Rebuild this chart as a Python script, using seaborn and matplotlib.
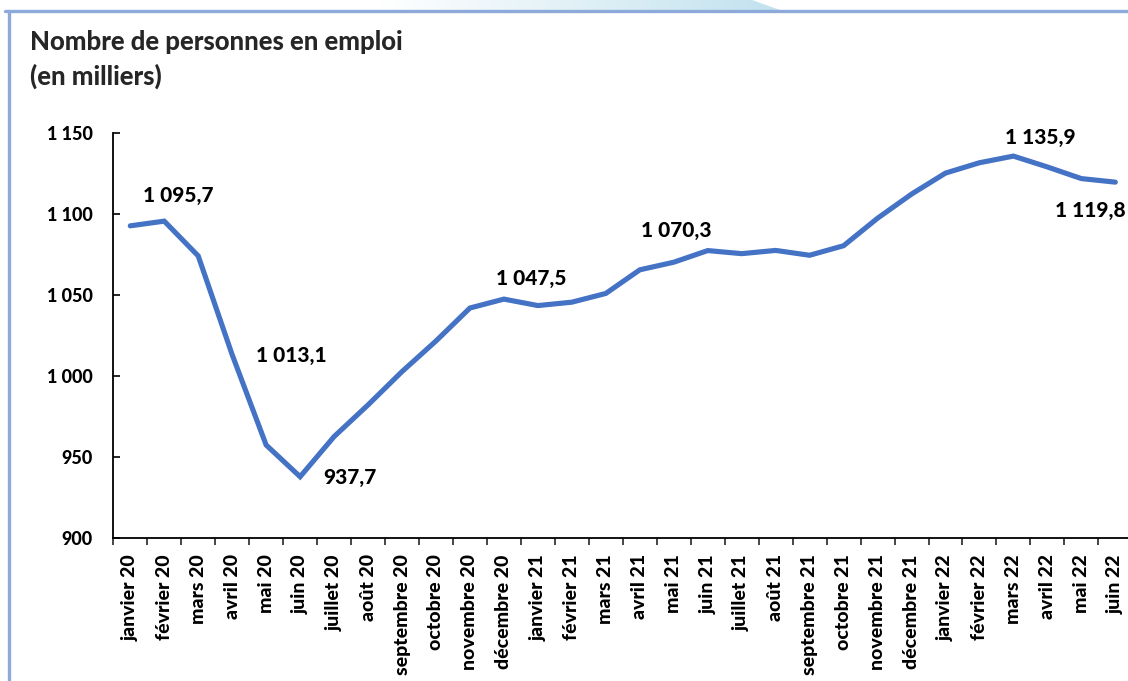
import numpy as np
import pandas as pd
import matplotlib
matplotlib.use("Agg")
import matplotlib.pyplot as plt
from matplotlib.lines import Line2D
from matplotlib.patches import Polygon
import seaborn as sns

# data (milliers)
mois = ["janvier 20", "février 20", "mars 20", "avril 20", "mai 20", "juin 20",
        "juillet 20", "août 20", "septembre 20", "octobre 20", "novembre 20", "décembre 20",
        "janvier 21", "février 21", "mars 21", "avril 21", "mai 21", "juin 21",
        "juillet 21", "août 21", "septembre 21", "octobre 21", "novembre 21", "décembre 21",
        "janvier 22", "février 22", "mars 22", "avril 22", "mai 22", "juin 22"]
emploi = [1092.8, 1095.7, 1074.2, 1013.1, 957.3, 937.7,
          962.5, 982.1, 1002.7, 1021.6, 1042.0, 1047.5,
          1043.5, 1045.6, 1051.0, 1065.6, 1070.3, 1077.5,
          1075.6, 1077.6, 1074.6, 1080.5, 1097.5, 1112.4,
          1125.4, 1131.8, 1135.9, 1129.2, 1122.0, 1119.8]
y_ticks = [900, 950, 1000, 1050, 1100, 1150]

# labelled points: month index -> offset of label (pixels)
etiquettes = {1: (14, 26), 3: (59, -1), 5: (50, -1), 11: (27, 21),
              16: (2, 32), 26: (27, 19), 29: (-25, -28)}


def fr_num(v, dec=0):
    s = f"{v:,.{dec}f}"
    return s.replace(",", " ").replace(".", ",")


df = pd.DataFrame({"mois": mois, "emploi": emploi})

sns.set_style("white")
plt.rcParams["font.family"] = ["Lato", "DejaVu Sans"]
plt.rcParams["font.weight"] = "bold"

W, H = 1128, 681
fig = plt.figure(figsize=(W / 100, H / 100), dpi=100)
ax = fig.add_axes([113.3 / W, 1 - 537.7 / H, 1019 / W, 404.4 / H])

sns.lineplot(data=df, x="mois", y="emploi", sort=False, ax=ax,
             color="#4472C4", linewidth=3.7, solid_joinstyle="miter")

ax.set_xlim(-0.5, len(mois) - 0.5)
ax.set_ylim(900, 1150)
ax.set_xlabel("")
ax.set_ylabel("")

ax.set_yticks(y_ticks)
ax.set_yticklabels([fr_num(v) for v in y_ticks], fontsize=13, fontweight="black")
ax.tick_params(axis="y", direction="in", length=5, width=1.2, pad=15, left=True, colors="black")

ax.set_xticks(range(len(mois)))
ax.set_xticklabels(mois, rotation=90, fontsize=14, fontweight="black")
ax.set_xticks(np.arange(len(mois) + 1) - 0.5, minor=True)
ax.tick_params(axis="x", which="major", length=0, pad=12, colors="black")
ax.tick_params(axis="x", which="minor", direction="out", length=5, width=1.2, bottom=True)

for side in ["top", "right"]:
    ax.spines[side].set_visible(False)
for side in ["left", "bottom"]:
    ax.spines[side].set_color("black")
    ax.spines[side].set_linewidth(1.3)

for i, (dx, dy) in etiquettes.items():
    ax.annotate(fr_num(emploi[i], 1), xy=(i, emploi[i]), xytext=(dx, dy),
                textcoords="offset pixels", ha="center", va="center",
                fontsize=15, fontweight="black", color="black", annotation_clip=False)

fig.text(30 / W, 1 - 42 / H, "Nombre de personnes en emploi", fontsize=18.5,
         fontweight="black", va="center", ha="left")
fig.text(30 / W, 1 - 76 / H, "(en milliers)", fontsize=18.5,
         fontweight="black", va="center", ha="left")

# decorative frame: gradient band on top, blue border lines
band = fig.add_axes([0, 1 - 10 / H, 1, 10 / H])
grad = np.linspace(0, 1, 400)[None, :]
cmap = matplotlib.colors.LinearSegmentedColormap.from_list("band", ["#ffffff", "#c2e2ee"])
img = band.imshow(grad, extent=[380, 780, 0, 10], cmap=cmap, aspect="auto")
clip = Polygon([[380, 0], [780, 0], [752, 10], [380, 10]], transform=band.transData)
img.set_clip_path(clip)
band.set_xlim(0, W)
band.set_ylim(0, 10)
band.axis("off")

fig.add_artist(Line2D([5 / W, 1], [1 - 11 / H, 1 - 11 / H], color="#8eaadb", linewidth=2.4))
fig.add_artist(Line2D([8.5 / W, 8.5 / W], [0, 1 - 11 / H], color="#8eaadb", linewidth=2.4))

fig.savefig("out.png", dpi=100)
